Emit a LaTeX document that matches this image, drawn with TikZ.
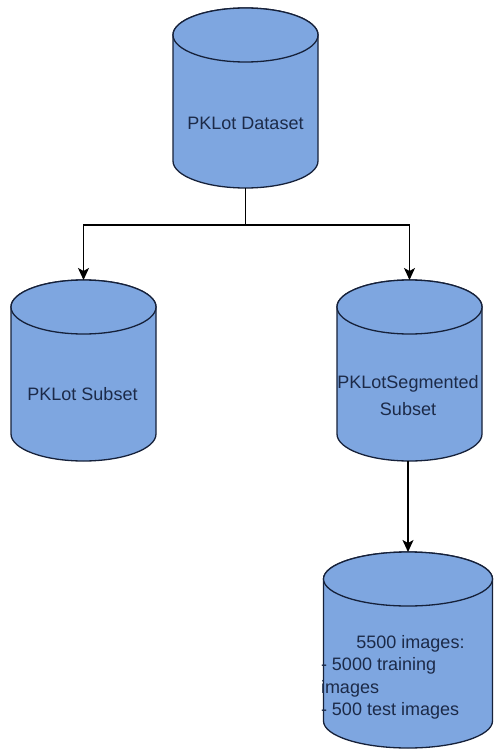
\documentclass[tikz,border=0pt]{standalone}
\usepackage{fontspec}
\setmainfont{Liberation Sans}
\usetikzlibrary{arrows.meta}
\definecolor{cylfillc}{HTML}{7EA6E0}
\definecolor{cylline}{HTML}{16213A}
\definecolor{txtc}{HTML}{1C2A48}
\newcommand\drawcyl[4]{% #1 centre x, #2 top y, #3 half width, #4 height (y down), ry = 27
  \filldraw[cylshape] (#1-#3,#2+27) -- (#1-#3,#2+#4-27)
    arc[start angle=180,end angle=360,x radius=#3pt,y radius=27pt]
    -- (#1+#3,#2+27)
    arc[start angle=0,end angle=180,x radius=#3pt,y radius=27pt] -- cycle;
  \draw[cylshape] (#1,#2+27) ellipse[x radius=#3pt,y radius=27pt];
}
\begin{document}
\begin{tikzpicture}[x=1pt,y=-1pt,
  cylshape/.style={fill=cylfillc,draw=cylline,line width=1.3pt},
  cylbox/.style={draw=none,inner sep=0pt,outer sep=0pt},
  lbl/.style={inner sep=0pt,outer sep=0pt,text=txtc,font=\fontsize{18}{22}\selectfont},
  conn/.style={draw=black,line width=1.4pt},
  arr/.style={conn,-{Stealth[length=12pt,width=11pt,inset=3pt]}}]
\fill[white] (0,0) rectangle (493,749);
\useasboundingbox (0,0) rectangle (493,749);

% cylinders
\drawcyl{245.5}{8}{72.5}{180}
\drawcyl{83.5}{280}{72.5}{181}
\drawcyl{409.5}{280}{72.5}{181}
\drawcyl{408}{552}{84.5}{196}

% named boxes over the cylinders
\node[cylbox,minimum width=145pt,minimum height=180pt] (dataset) at (245.5,98) {};
\node[cylbox,minimum width=145pt,minimum height=181pt] (subset) at (83.5,370.5) {};
\node[cylbox,minimum width=145pt,minimum height=181pt] (seg) at (409.5,370.5) {};
\node[cylbox,minimum width=169pt,minimum height=196pt] (imgs) at (408,650) {};

% labels
\node[lbl] (tdataset) at (245.5,123) {PKLot Dataset};
\node[lbl] (tsubset) at (82.5,394) {PKLot Subset};
\node[lbl,anchor=base] (tseg1) at (408,388.5) {PKLotSegmented};
\node[lbl,anchor=base] (tseg2) at (408,415.5) {Subset};
\node[lbl,anchor=base] (timg1) at (410.5,648) {5500 images:};
\node[lbl,anchor=base west] (timg2) at (321,670.5) {- 5000 training};
\node[lbl,anchor=base west] (timg3) at (321,693) {images};
\node[lbl,anchor=base west] (timg4) at (321,715.5) {- 500 test images};

% connectors
\draw[conn] (dataset.south) -- ++(0,37) coordinate (split);
\draw[arr] (split) -| (subset.north);
\draw[arr] (split) -| (seg.north);
\draw[arr] (imgs.north |- seg.south) -- (imgs.north);
\end{tikzpicture}
\end{document}
